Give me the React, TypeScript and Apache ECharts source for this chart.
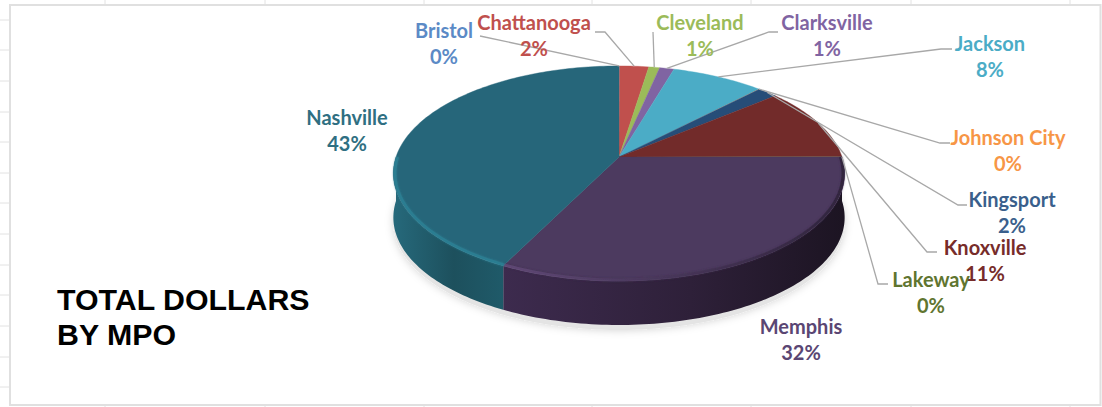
import React, { useEffect, useRef } from "react";
import * as echarts from "echarts";

const names = ["Bristol","Chattanooga","Cleveland","Clarksville","Jackson","Johnson City","Kingsport","Knoxville","Lakeway","Memphis","Nashville"];
const dollarsShare = [0.03,2.43,0.9,1.2,7.7,0.03,1.67,11.0,0.03,32.4,42.6];
const sliceColors = ["#4f81bd","#c0504d","#9bbb59","#8064a2","#4bacc6","#f79646","#264d78","#722b2a","#5f7530","#4c3a5f","#26667a"];
const labelColors = ["#5b8ac6","#c0504d","#9bbb59","#8064a2","#4bacc6","#f79646","#3a5f8c","#772c2a","#5f7530","#5a4673","#2f6f82"];
const titleText = "TOTAL DOLLARS\nBY MPO";

// layout: label centres and leader-line elbows
const labelAt: number[][] = [[444,43],[534,35],[700,35],[827,35],[990,56],[1008,150],[1012,212],[985,260],[931,292],[801,339],[347,130]];
const elbows: (number[][] | null)[] = [
  [[480,36]], [[605,32],[595,32]], [[653,32]], [[769,32],[778,32]], [[941,49],[952,49]],
  [[940,143],[950,143]], [[958,205],[967,205]], [[927,252],[937,252]], [[878,284],[888,284]], null, null,
];
const gridTopX = [105,265,424,592,751,911,1070];
const gridLeftY = [20,50,81,112,142,173,203,234,265,295,326,357,387];

const CX = 619, CY = 157, RX = 223, RY = 105, K = 0.153, DEPTH = 44;
const total = dollarsShare.reduce((a, b) => a + b, 0);

function project(theta: number, r = 1, dy = 0): number[] {
  const u = r * Math.sin(theta), v = -r * Math.cos(theta);
  const s = 1 / (1 - K * v);
  return [CX + RX * u * s, CY + RY * v * s + dy];
}
function arc(a0: number, a1: number, r = 1, dy = 0): number[][] {
  const n = Math.max(2, Math.ceil(Math.abs(a1 - a0) / 0.02));
  const pts: number[][] = [];
  for (let i = 0; i <= n; i++) pts.push(project(a0 + ((a1 - a0) * i) / n, r, dy));
  return pts;
}
const wallStops: Record<number, string[]> = {
  9: ["#3d2b4e", "#2e2039", "#1c1422"],
  10: ["#26697b", "#1d505d", "#1f5a69"],
};
const rimColors: Record<number, string> = { 9: "#6d5285", 10: "#2f8398" };

function renderItem(params: any, api: any) {
  const i = params.dataIndex;
  const val = api.value(0);
  let before = 0;
  for (let j = 0; j < i; j++) before += dollarsShare[j];
  const a0 = (before / total) * Math.PI * 2;
  const a1 = ((before + val) / total) * Math.PI * 2;
  const mid = (a0 + a1) / 2;
  const children: any[] = [];

  if (i === 0) {
    children.push({
      type: "polygon", z2: 0,
      shape: { points: arc(0, Math.PI * 2, 1.0, DEPTH + 5) },
      style: { fill: "#e4e4e4", shadowBlur: 8, shadowColor: "rgba(0,0,0,0.18)" },
    });
  }
  // outer wall (only the part that faces the viewer)
  const wStart = Math.max(a0, Math.PI / 2);
  const wEnd = Math.min(a1, Math.PI * 1.5);
  if (wEnd > wStart) {
    const top = arc(wStart, wEnd);
    const bottom = arc(wEnd, wStart, 1, DEPTH);
    const st = wallStops[i];
    children.push({
      type: "polygon", z2: 1,
      shape: { points: top.concat(bottom) },
      style: {
        fill: new echarts.graphic.LinearGradient(0, 0, 1, 0, [
          { offset: 0, color: st[0] },
          { offset: 0.55, color: st[1] },
          { offset: 1, color: st[2] },
        ]),
      },
    });
  }
  // top face
  const visible = val >= 0.5;
  children.push({
    type: "polygon", z2: 2,
    shape: { points: [[CX, CY]].concat(arc(a0, a1)) },
    style: visible
      ? { fill: sliceColors[i], stroke: sliceColors[i], lineWidth: 0.4 }
      : { fill: sliceColors[i] },
  });
  // bevel highlight along the front edge
  if (wEnd > wStart && rimColors[i]) {
    children.push({
      type: "polyline", z2: 3,
      shape: { points: arc(wStart, wEnd, 0.993) },
      style: {
        fill: null, lineWidth: 3, opacity: 0.6,
        stroke: i === 9
          ? new echarts.graphic.LinearGradient(0, 0, 1, 0, [
              { offset: 0, color: rimColors[i] },
              { offset: 0.45, color: "#4c3a5f" },
              { offset: 1, color: "#241a2e" },
            ])
          : rimColors[i],
        shadowBlur: 2, shadowColor: i === 9 ? "#3a2b4a" : rimColors[i],
      },
    });
  }
  // leader line
  const elbow = elbows[i];
  if (elbow) {
    children.push({
      type: "polyline", z2: 4,
      shape: { points: [project(mid)].concat(elbow) },
      style: { fill: null, stroke: "#a8a8a8", lineWidth: 1.3 },
    });
  }
  // label
  const pct = Math.round((val / total) * 100);
  children.push({
    type: "text", z2: 5,
    x: labelAt[i][0], y: labelAt[i][1],
    style: {
      text: `${names[i]}\n${pct}%`,
      fill: labelColors[i],
      fontFamily: "Lato", fontWeight: "bold", fontSize: 20,
      lineHeight: 26, align: "center", verticalAlign: "middle",
    },
  });
  return { type: "group", children };
}

export default function App() {
  const ref = useRef<HTMLDivElement>(null);
  useEffect(() => {
    const chart = echarts.init(ref.current!, undefined, { renderer: "svg" });
    const gridStyle = { stroke: "#e2e2e2", lineWidth: 1 };
    const graphics: any[] = [
      ...gridTopX.map((x) => ({ type: "line", silent: true, shape: { x1: x, y1: 0, x2: x, y2: 5 }, style: gridStyle })),
      ...gridTopX.map((x) => ({ type: "line", silent: true, shape: { x1: x, y1: 405, x2: x, y2: 407 }, style: gridStyle })),
      ...gridLeftY.map((y) => ({ type: "line", silent: true, shape: { x1: 0, y1: y, x2: 10, y2: y }, style: gridStyle })),
      { type: "rect", silent: true, shape: { x: 10, y: 5, width: 1090.5, height: 400 }, style: { fill: "#fff", stroke: "#e0e0e0", lineWidth: 2 } },
    ];
    chart.setOption({
      animation: false,
      backgroundColor: "#fff",
      title: {
        text: titleText, left: 52, top: 277,
        textStyle: { fontFamily: "Liberation Sans", fontWeight: "bold", fontSize: 30.3, lineHeight: 35, color: "#000" },
      },
      graphic: graphics,
      series: [{
        type: "custom",
        coordinateSystem: "none",
        silent: true,
        z: 5,
        renderItem,
        data: names.map((name, i) => ({ name, value: [dollarsShare[i]] })),
      }],
    });
    return () => chart.dispose();
  }, []);
  return <div ref={ref} style={{ position: "absolute", left: 0, top: 0, width: 1102, height: 407 }} />;
}
